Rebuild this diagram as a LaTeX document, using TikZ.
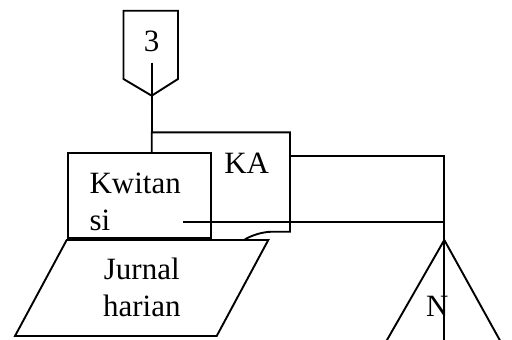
\documentclass[tikz,border=0pt]{standalone}
\usepackage{fontspec}
\setmainfont{Liberation Serif}
\begin{document}
\begin{tikzpicture}[x=1pt,y=-1pt,line join=miter]
\tikzset{
  shp/.style={draw=black,line width=1.9pt,fill=white},
  conn/.style={draw=black,line width=1.9pt},
  lbl/.style={inner sep=0pt,font=\fontsize{31}{37}\selectfont},
}
\useasboundingbox (0,0) rectangle (512,340);
\clip (0,0) rectangle (512,340);
% off-page connector "3"
\draw[shp] (123.5,10.7) -- (178,10.7) -- (178,79) -- (151.7,95.7) -- (123.5,79) -- cycle;
\node[lbl,anchor=base] (three) at (151.7,51.7) {3};
\coordinate (threein) at (151.7,62.7);
% KA document
\draw[shp] (151.7,132.3) -- (290,132.3) -- (290,231.7) -- (272,231.7)
  .. controls (262,232) and (252,235) .. (244,240) -- (230,246) -- (151.7,246) -- cycle;
\coordinate (katop) at (151.7,132.3);
\coordinate (karight) at (290,155.7);
\node[lbl,anchor=base] (ka) at (246.7,173.3) {KA};
% Kwitansi box
\draw[shp] (68.3,153.3) rectangle (210.7,238.3);
\node[lbl,anchor=base west,align=left] (kw) at (89.3,230) {Kwitan\\si};
\coordinate (kwline) at (183.3,222.3);
% Jurnal harian parallelogram
\draw[shp] (66.7,240) -- (268.3,240) -- (216.7,336) -- (15,336) -- cycle;
\node[lbl,anchor=base,align=center] (jh) at (141.8,316) {Jurnal\\harian};
% connectors
\draw[conn] (threein) -- (katop);
\coordinate (jtop) at (444.3,155.7);
\coordinate (jmid) at (444.3,222.3);
\coordinate (apex) at (444.3,240);
\coordinate (vbot) at (444.3,341);
\draw[conn] (karight) -- (jtop) -- (vbot);
\draw[conn] (kwline) -- (jmid);
% offline storage triangle
\draw[conn] (386.7,340.5) -- (apex) -- (500,340.5);
\node[lbl,anchor=base] (n) at (437.2,316.7) {N};
\end{tikzpicture}
\end{document}
